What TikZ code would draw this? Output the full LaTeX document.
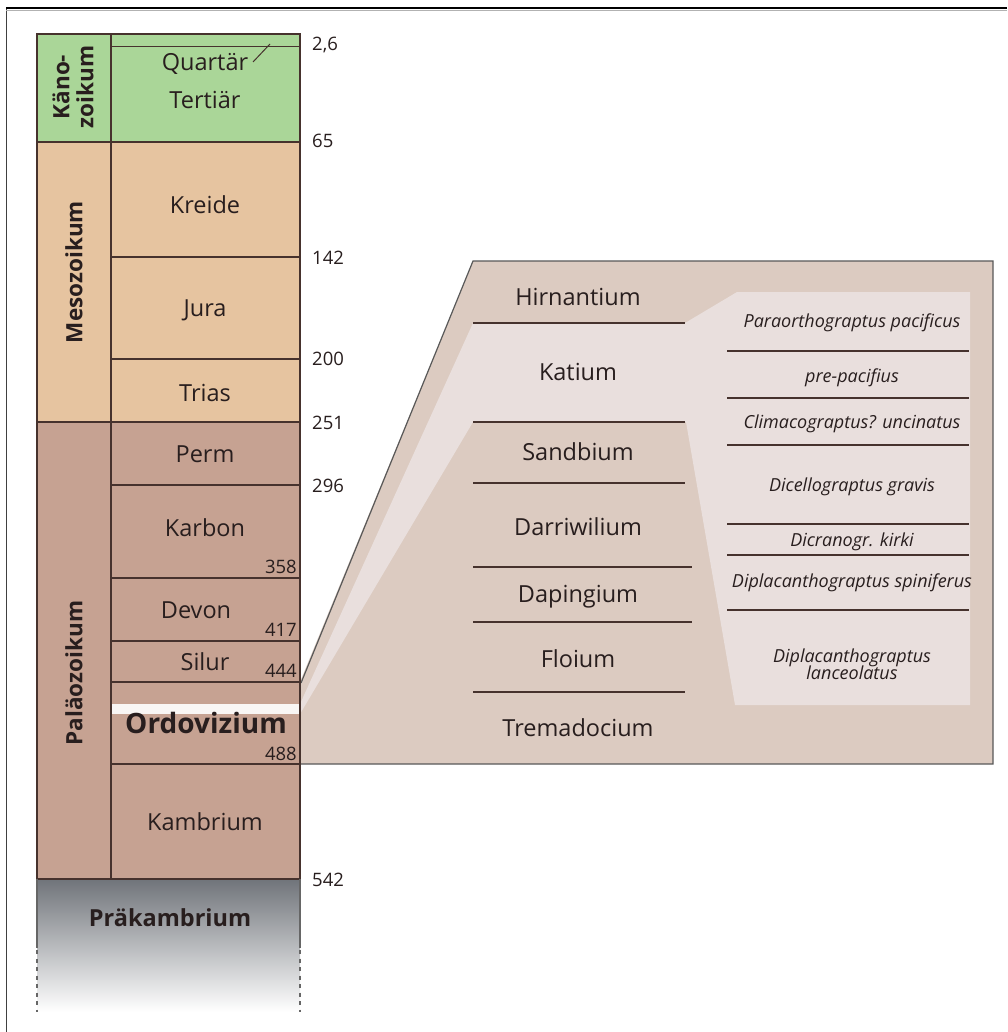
\documentclass[tikz,border=0pt]{standalone}
\usepackage{fontspec}
\setmainfont{Open Sans}
\definecolor{keno}{RGB}{170,214,152}
\definecolor{meso}{RGB}{230,196,160}
\definecolor{paleo}{RGB}{198,162,146}
\definecolor{panel}{RGB}{220,203,193}
\definecolor{lightp}{RGB}{233,223,221}
\definecolor{lc}{RGB}{70,50,45}
\definecolor{txt}{RGB}{40,30,30}
\definecolor{prak}{RGB}{112,116,122}
\begin{document}
\begin{tikzpicture}[x=1pt,y=-1pt,
  bnd/.style={draw=lc,line width=1.2pt},
  per/.style={text=txt,font=\fontsize{23.5}{27}\selectfont,inner sep=0pt},
  num/.style={text=txt,font=\fontsize{18.5}{21}\selectfont,inner sep=0pt},
  era/.style={text=txt,font=\bfseries\fontsize{22.5}{24}\selectfont,rotate=90,inner sep=0pt,align=center},
  zone/.style={text=txt,font=\itshape\fontsize{18}{19.5}\selectfont,inner sep=0pt,align=center}]
\useasboundingbox (0,0) rectangle (1007,1032);
\fill[white] (0,0) rectangle (1007,1032);
% frame
\draw[black!75,line width=1pt] (6.5,1032) -- (6.5,8);
\draw[black,line width=2pt] (6,8) -- (1007,8);
\draw[black!30,line width=1pt] (6,10.5) -- (1007,10.5);
% column fills
\fill[keno] (37,34) rectangle (300,142);
\fill[meso] (37,142) rectangle (300,422);
\fill[paleo] (37,422) rectangle (300,879);
\shade[top color=prak,bottom color=white,middle color=prak!50] (37,879) rectangle (300,1012);
\fill[white!90!paleo] (111,704) rectangle (300,714);
% right panel
\fill[panel] (300,682) -- (473,261) -- (993,261) -- (993,764) -- (300,764) -- cycle;
\fill[lightp] (300,704) -- (473,323) -- (685,323) -- (737,292) -- (970,292) -- (970,705) -- (735,705) -- (686,422) -- (473,422) -- (300,714) -- cycle;
\draw[draw=black!65,line width=1.2pt] (300,764) -- (993,764) -- (993,261) -- (473,261) -- (301,683);
% column boundaries
\draw[bnd] (37,34) rectangle (300,879);
\draw[bnd] (111,34) -- (111,879);
\draw[bnd] (111,46.5) -- (300,46.5);
\draw[bnd] (37,142) -- (300,142);
\draw[bnd] (111,257) -- (300,257);
\draw[bnd] (111,359) -- (300,359);
\draw[bnd] (37,422) -- (300,422);
\draw[bnd] (111,485) -- (300,485);
\draw[bnd] (111,578) -- (300,578);
\draw[bnd] (111,641) -- (300,641);
\draw[bnd] (111,682) -- (300,682);
\draw[bnd] (111,764) -- (300,764);
\draw[bnd,line width=1pt] (270,44) -- (253,62);
\draw[draw=black!60,line width=1.2pt] (37,879) -- (37,948) (300,879) -- (300,948);
\draw[draw=black!60,line width=1.6pt,dash pattern=on 4pt off 4.5pt] (37,950) -- (37,1012) (300,950) -- (300,1012);
% stage lines
\draw[bnd] (473,323) -- (685,323);
\draw[bnd] (473,422) -- (685,422);
\draw[bnd] (473,483) -- (685,483);
\draw[bnd] (473,567) -- (692,567);
\draw[bnd] (473,622) -- (692,622);
\draw[bnd] (473,692) -- (685,692);
% zone lines
\foreach \yy in {351,398,445,524,555,610} \draw[bnd] (727,\yy) -- (969,\yy);
% era labels
\node[era] (keno) at (73,87) {Käno-\\zoikum};
\node[era] (meso) at (74,272) {Mesozoikum};
\node[era] (paleo) at (74,673) {Paläozoikum};
% period labels
\node[per] (quart) at (205,64) {Quartär};
\node[per] (tert) at (205,100) {Tertiär};
\node[per] (kreide) at (205,205) {Kreide};
\node[per] (jura) at (205,310) {Jura};
\node[per] (trias) at (205,393) {Trias};
\node[per] (perm) at (205,454) {Perm};
\node[per] (karbon) at (205,528) {Karbon};
\node[per] (devon) at (196,610) {Devon};
\node[per] (silur) at (205,662) {Silur};
\node[per,font=\bfseries\fontsize{28}{30}\selectfont] (ordo) at (206,723) {Ordovizium};
\node[per] (kamb) at (205,822) {Kambrium};
\node[per,font=\bfseries\fontsize{23.5}{27}\selectfont] (prak) at (170,918) {Präkambrium};
% numbers
\node[num,anchor=west] (n26) at (312,45) {2,6};
\node[num,anchor=west] (n65) at (312,141) {65};
\node[num,anchor=west] (n142) at (312,258) {142};
\node[num,anchor=west] (n200) at (312,359) {200};
\node[num,anchor=west] (n251) at (312,423) {251};
\node[num,anchor=west] (n296) at (312,486) {296};
\node[num,anchor=east] (n358) at (297,567) {358};
\node[num,anchor=east] (n417) at (297,630) {417};
\node[num,anchor=east] (n444) at (297,671) {444};
\node[num,anchor=east] (n488) at (297,754) {488};
\node[num,anchor=west] (n542) at (312,880) {542};
% stages
\node[per] (hirn) at (578,297) {Hirnantium};
\node[per] (kat) at (578,372) {Katium};
\node[per] (sand) at (578,452) {Sandbium};
\node[per] (darr) at (578,527) {Darriwilium};
\node[per] (dap) at (578,597) {Dapingium};
\node[per] (flo) at (578,659) {Floium};
\node[per] (trem) at (578,728) {Tremadocium};
% zones
\node[zone] (z1) at (852,323) {Paraorthograptus pacificus};
\node[zone] (z2) at (852,378) {pre-pacifius};
\node[zone] (z3) at (852,424) {Climacograptus? uncinatus};
\node[zone] (z4) at (852,487) {Dicellograptus gravis};
\node[zone] (z5) at (852,542) {Dicranogr. kirki};
\node[zone] (z6) at (852,583) {Diplacanthograptus spiniferus};
\node[zone] (z7) at (852,664) {Diplacanthograptus\\[-3pt]lanceolatus};
\end{tikzpicture}
\end{document}
